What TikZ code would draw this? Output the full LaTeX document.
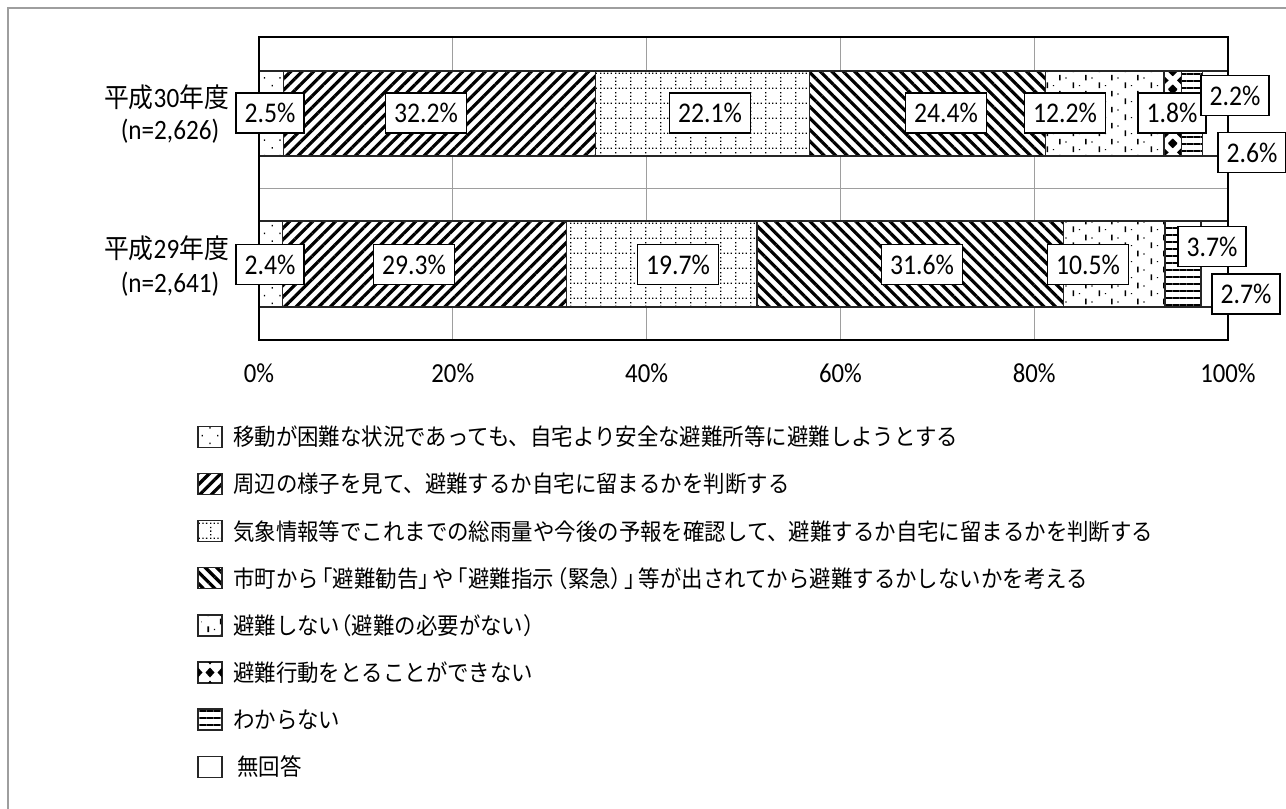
\documentclass[tikz,border=0pt]{standalone}
\usepackage{fontspec}
\setmainfont{Carlito}[FakeStretch=0.9]
\newfontfamily\jp{Noto Sans CJK JP}[FakeStretch=0.92]
\usetikzlibrary{patterns.meta}
\newcommand\jpc[1]{{\jp\fontsize{27}{30}\selectfont #1}}
\pgfdeclarepattern{
  name=dotgrid, type=uncolored,
  bottom left={\pgfpoint{0pt}{0pt}}, top right={\pgfpoint{15pt}{15pt}},
  tile size={\pgfpoint{15pt}{15pt}},
  code={
    \pgfpathrectangle{\pgfpoint{0pt}{0pt}}{\pgfpoint{1.4pt}{1.4pt}}
    \pgfpathrectangle{\pgfpoint{3.75pt}{0pt}}{\pgfpoint{1.4pt}{1.4pt}}
    \pgfpathrectangle{\pgfpoint{7.5pt}{0pt}}{\pgfpoint{1.4pt}{1.4pt}}
    \pgfpathrectangle{\pgfpoint{11.25pt}{0pt}}{\pgfpoint{1.4pt}{1.4pt}}
    \pgfpathrectangle{\pgfpoint{0pt}{3.75pt}}{\pgfpoint{1.4pt}{1.4pt}}
    \pgfpathrectangle{\pgfpoint{0pt}{7.5pt}}{\pgfpoint{1.4pt}{1.4pt}}
    \pgfpathrectangle{\pgfpoint{0pt}{11.25pt}}{\pgfpoint{1.4pt}{1.4pt}}
    \pgfusepath{fill}
  }}
\pgfdeclarepattern{
  name=dashvert, type=uncolored,
  bottom left={\pgfpoint{0pt}{0pt}}, top right={\pgfpoint{25.4pt}{16pt}},
  tile size={\pgfpoint{25.4pt}{16pt}},
  code={
    \pgfpathrectangle{\pgfpoint{5.6pt}{1pt}}{\pgfpoint{1.6pt}{6pt}}
    \pgfpathrectangle{\pgfpoint{18.3pt}{9pt}}{\pgfpoint{1.6pt}{6pt}}
    \pgfpathrectangle{\pgfpoint{12.1pt}{3pt}}{\pgfpoint{1.2pt}{1.2pt}}
    \pgfpathrectangle{\pgfpoint{24.8pt}{11pt}}{\pgfpoint{1.2pt}{1.2pt}}
    \pgfusepath{fill}
  }}
\pgfdeclarepattern{
  name=diamonds, type=uncolored,
  bottom left={\pgfpoint{0pt}{0pt}}, top right={\pgfpoint{17pt}{18pt}},
  tile size={\pgfpoint{17pt}{18pt}},
  code={
    \pgfpathmoveto{\pgfpoint{8.5pt}{4.5pt}}\pgfpathlineto{\pgfpoint{13pt}{9pt}}\pgfpathlineto{\pgfpoint{8.5pt}{13.5pt}}\pgfpathlineto{\pgfpoint{4pt}{9pt}}\pgfpathclose
    \pgfpathmoveto{\pgfpoint{0pt}{-4.5pt}}\pgfpathlineto{\pgfpoint{4.5pt}{0pt}}\pgfpathlineto{\pgfpoint{0pt}{4.5pt}}\pgfpathlineto{\pgfpoint{-4.5pt}{0pt}}\pgfpathclose
    \pgfpathmoveto{\pgfpoint{17pt}{-4.5pt}}\pgfpathlineto{\pgfpoint{21.5pt}{0pt}}\pgfpathlineto{\pgfpoint{17pt}{4.5pt}}\pgfpathlineto{\pgfpoint{12.5pt}{0pt}}\pgfpathclose
    \pgfpathmoveto{\pgfpoint{0pt}{13.5pt}}\pgfpathlineto{\pgfpoint{4.5pt}{18pt}}\pgfpathlineto{\pgfpoint{0pt}{22.5pt}}\pgfpathlineto{\pgfpoint{-4.5pt}{18pt}}\pgfpathclose
    \pgfpathmoveto{\pgfpoint{17pt}{13.5pt}}\pgfpathlineto{\pgfpoint{21.5pt}{18pt}}\pgfpathlineto{\pgfpoint{17pt}{22.5pt}}\pgfpathlineto{\pgfpoint{12.5pt}{18pt}}\pgfpathclose
    \pgfusepath{fill}
  }}
\begin{document}
\begin{tikzpicture}[x=1pt,y=-1pt,
  seg/.style={draw=black!85, line width=1.3pt, preaction={fill=white}},
  pA/.style={seg, pattern={Dots[distance=11pt,angle=45,radius=1pt]}, pattern color=black},
  pB/.style={seg, pattern={Lines[angle=45,distance=8.1pt,line width=3.2pt]}, pattern color=black},
  pC/.style={seg, pattern=dotgrid, pattern color=black},
  pD/.style={seg, pattern={Lines[angle=-45,distance=8.1pt,line width=3.2pt]}, pattern color=black},
  pE/.style={seg, pattern=dashvert, pattern color=black},
  pF/.style={seg, pattern=diamonds, pattern color=black},
  pG/.style={seg, pattern={Lines[angle=0,distance=7pt,line width=1.2pt]}, pattern color=black},
  pH/.style={seg, fill=white},
  gridln/.style={draw=black!38, line width=1.3pt},
  framel/.style={draw=black!38, line width=1.6pt},
  lbl/.style={draw=black, line width=1.4pt, fill=white, inner xsep=8.5pt, inner ysep=0pt,
    minimum height=40pt, font=\fontsize{28.5}{30}\selectfont},
  axl/.style={font=\fontsize{27.5}{30}\selectfont, inner sep=0pt},
  catl/.style={font=\fontsize{28}{30}\selectfont, inner sep=0pt},
  legbox/.style={draw=black!85, line width=1.3pt, minimum width=24pt, minimum height=21pt, inner sep=0pt, preaction={fill=white}},
  legtxt/.style={anchor=west, inner sep=0pt, font=\jp\fontsize{23.3}{26}\selectfont}
]
\useasboundingbox (0,0) rectangle (1286,809);
\fill[white] (0,0) rectangle (1286,809);
% outer frame
\draw[framel] (8,809) -- (8,8) -- (1286,8);
% gridlines
\foreach \gx in {452.8,646.6,840.4,1034.2} \draw[gridln] (\gx,37) -- (\gx,340);
\draw[gridln] (259,188.5) -- (1228,188.5);
% row 1 (H30)
\draw[pA] (259,71) rectangle (283.2,156);
\draw[pB] (283.2,71) rectangle (595.2,156);
\draw[pC] (595.2,71) rectangle (809.4,156);
\draw[pD] (809.4,71) rectangle (1045.8,156);
\draw[pE] (1045.8,71) rectangle (1164.0,156);
\draw[pF] (1164.0,71) rectangle (1181.5,156);
\draw[pG] (1181.5,71) rectangle (1202.8,156);
\draw[pH] (1202.8,71) rectangle (1228,156);
% row 2 (H29)
\draw[pA] (259,221) rectangle (282.3,307);
\draw[pB] (282.3,221) rectangle (566.2,307);
\draw[pC] (566.2,221) rectangle (757.1,307);
\draw[pD] (757.1,221) rectangle (1063.3,307);
\draw[pE] (1063.3,221) rectangle (1165.0,307);
\draw[pG] (1165.0,221) rectangle (1200.9,307);
\draw[pH] (1200.9,221) rectangle (1228,307);
% plot frame
\draw[black, line width=2pt] (259,37) rectangle (1228,340);
% value labels row 1
\node[lbl] (a1) at (270,113) {2.5\%};
\node[lbl] (a2) at (426,113) {32.2\%};
\node[lbl] (a3) at (710,113) {22.1\%};
\node[lbl] (a4) at (946,113) {24.4\%};
\node[lbl] (a5) at (1065,113) {12.2\%};
\node[lbl] (a6) at (1172,113) {1.8\%};
\node[lbl] (a7) at (1235,95.5) {2.2\%};
\node[lbl] (a8) at (1252,152.5) {2.6\%};
% value labels row 2
\node[lbl] (b1) at (270,264.5) {2.4\%};
\node[lbl] (b2) at (414,264.5) {29.3\%};
\node[lbl] (b3) at (678,264.5) {19.7\%};
\node[lbl] (b4) at (922,264.5) {31.6\%};
\node[lbl] (b5) at (1088,264.5) {10.5\%};
\node[lbl] (b7) at (1212,246.5) {3.7\%};
\node[lbl] (b8) at (1246,294) {2.7\%};
% category labels
\node[catl] (c1) at (166.5,97) {\jpc{平成}30\jpc{年度}};
\node[catl] (c1n) at (170,131) {(n=2,626)};
\node[catl] (c2) at (166.5,248) {\jpc{平成}29\jpc{年度}};
\node[catl] (c2n) at (170,284) {(n=2,641)};
% axis labels
\node[axl] (x0) at (259,373) {0\%};
\node[axl] (x20) at (452.8,373) {20\%};
\node[axl] (x40) at (646.6,373) {40\%};
\node[axl] (x60) at (840.4,373) {60\%};
\node[axl] (x80) at (1034.2,373) {80\%};
\node[axl] (x100) at (1228,373) {100\%};
% legend
\node[legbox, pattern={Dots[distance=11pt,angle=45,radius=1pt]}, pattern color=black] (l1) at (210,437) {};
\node[legtxt] (t1) at (233,437) {移動が困難な状況であっても、自宅より安全な避難所等に避難しようとする};
\node[legbox, pattern={Lines[angle=45,distance=8.1pt,line width=3.2pt]}, pattern color=black] (l2) at (210,484.1) {};
\node[legtxt] (t2) at (233,484.1) {周辺の様子を見て、避難するか自宅に留まるかを判断する};
\node[legbox, pattern=dotgrid, pattern color=black] (l3) at (210,531.2) {};
\node[legtxt] (t3) at (233,531.2) {気象情報等でこれまでの総雨量や今後の予報を確認して、避難するか自宅に留まるかを判断する};
\node[legbox, pattern={Lines[angle=-45,distance=8.1pt,line width=3.2pt]}, pattern color=black] (l4) at (210,578.3) {};
\node[legtxt] (t4) at (233,578.3) {市町から\kern-7.4pt{}「避難勧告」\kern-7.4pt{}や\kern-7.4pt{}「避難指示\kern-7.4pt{}（緊急）\kern-7.4pt{}」\kern-7.4pt{}等が出されてから避難するかしないかを考える};
\node[legbox, pattern=dashvert, pattern color=black] (l5) at (210,625.4) {};
\node[legtxt] (t5) at (233,625.4) {避難しない\kern-10pt{}（避難の必要がない）};
\node[legbox] (l6) at (210,672.5) {};
\begin{scope}
\clip (198,662) rectangle (222,683);
\fill[black] (205.5,672.5) -- (210,667.5) -- (214.5,672.5) -- (210,677.5) -- cycle;
\fill[black] (198,667.5) -- (202.5,672.5) -- (198,677.5) -- cycle;
\fill[black] (222,667.5) -- (217.5,672.5) -- (222,677.5) -- cycle;
\fill[black] (208,662) -- (210,664.5) -- (212,662) -- cycle;
\fill[black] (208,683) -- (210,680.5) -- (212,683) -- cycle;
\end{scope}
\draw[draw=black!85, line width=1.3pt] (l6.south west) rectangle (l6.north east);
\node[legtxt] (t6) at (233,672.5) {避難行動をとることができない};
\node[legbox, pattern={Lines[angle=0,distance=7pt,line width=1.2pt]}, pattern color=black] (l7) at (210,719.6) {};
\node[legtxt] (t7) at (233,719.6) {わからない};
\node[legbox] (l8) at (210,766.7) {};
\node[legtxt] (t8) at (237,766.7) {無回答};
\end{tikzpicture}
\end{document}
